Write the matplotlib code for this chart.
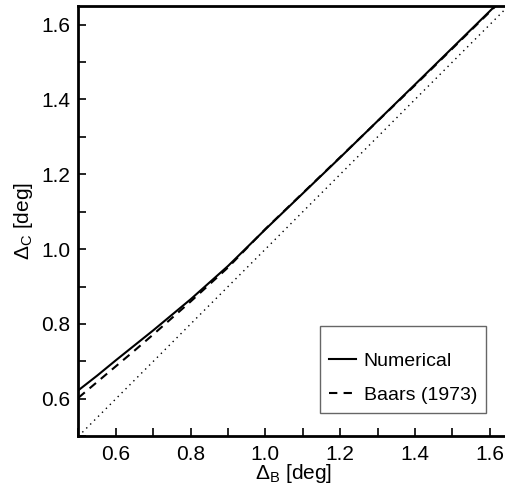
import numpy as np
import matplotlib
matplotlib.use("Agg")
import matplotlib.pyplot as plt
from matplotlib.ticker import MultipleLocator

plt.rcParams['font.family'] = ['Liberation Sans', 'DejaVu Sans']
plt.rcParams['mathtext.fontset'] = 'custom'
plt.rcParams['mathtext.rm'] = 'Liberation Sans'
plt.rcParams['mathtext.it'] = 'Liberation Sans'

# beam widths
delta_b = [0.5, 0.55, 0.6, 0.65, 0.7, 0.8, 0.9, 1.0, 1.2, 1.4, 1.6, 1.65]
numerical = [0.623, 0.662, 0.703, 0.743, 0.783, 0.866, 0.955, 1.053, 1.245, 1.440, 1.636, 1.685]
baars = [0.603, 0.645, 0.687, 0.729, 0.772, 0.860, 0.951, 1.054, 1.246, 1.438, 1.634, 1.683]
one_to_one = [0.5, 1.65]

fig = plt.figure(figsize=(5.06, 4.88), dpi=100)
ax = fig.add_axes([0.155, 0.106, 0.85, 0.882])

ax.plot(delta_b, numerical, color='k', lw=1.5, ls='-', label='Numerical')
ax.plot(delta_b, baars, color='k', lw=1.5, ls=(0, (4, 3)), label='Baars (1973)')
ax.plot(one_to_one, one_to_one, color='k', lw=1.0, ls=(0, (1, 3)))

ax.set_xlim(0.5, 1.65)
ax.set_ylim(0.5, 1.65)
ax.xaxis.set_major_locator(MultipleLocator(0.2))
ax.yaxis.set_major_locator(MultipleLocator(0.2))
ax.xaxis.set_minor_locator(MultipleLocator(0.1))
ax.yaxis.set_minor_locator(MultipleLocator(0.1))
ax.xaxis.set_major_formatter(plt.FormatStrFormatter('%.1f'))
ax.yaxis.set_major_formatter(plt.FormatStrFormatter('%.1f'))
ax.tick_params(which='both', direction='in', length=6, width=1.2, labelsize=15,
               top=False, right=False, pad=6)

for s in ['left', 'bottom', 'top']:
    ax.spines[s].set_linewidth(2)
ax.spines['right'].set_visible(False)

ax.set_xlabel(r'$\Delta_{\rm B}$ [deg]', fontsize=15, labelpad=-1)
ax.set_ylabel(r'$\Delta_{\rm C}$ [deg]', fontsize=15, labelpad=4)

# blank title gives the extra room above the first entry
leg = ax.legend(loc='lower right', bbox_to_anchor=(0.947, 0.054), borderaxespad=0,
                fontsize=14, fancybox=False, edgecolor='0.4', framealpha=1,
                title=' ', title_fontsize=1,
                handlelength=1.4, labelspacing=0.85,
                borderpad=0.45, handletextpad=0.4)
leg.get_frame().set_linewidth(1.0)

fig.savefig('out.png', dpi=100)
